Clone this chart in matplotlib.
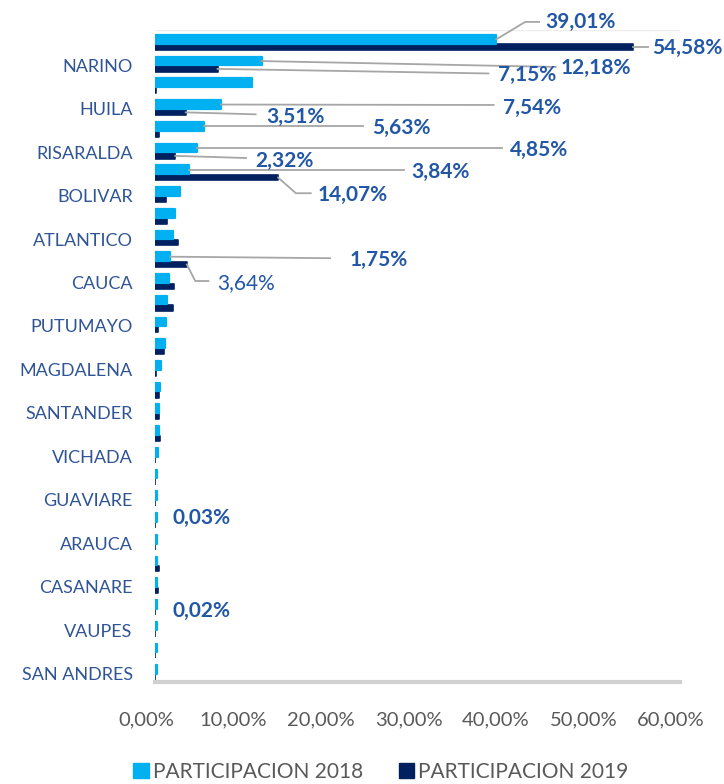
"""
Participacion por departamento 2018 vs 2019, horizontal clustered bars.
"""

import matplotlib.pyplot as plt
import matplotlib.transforms as mtransforms
from matplotlib.patches import Patch

plt.rcParams["font.family"] = ["Lato", "DejaVu Sans"]

# categories top to bottom (only every other one is labelled in the chart)
departments = [
    "ANTIOQUIA", "NARINO", "VALLE DEL CAUCA", "HUILA", "TOLIMA", "RISARALDA",
    "CALDAS", "BOLIVAR", "CORDOBA", "ATLANTICO", "META", "CAUCA",
    "NORTE DE SANTANDER", "PUTUMAYO", "CUNDINAMARCA", "MAGDALENA", "BOYACA",
    "SANTANDER", "SUCRE", "VICHADA", "LA GUAJIRA", "GUAVIARE", "AMAZONAS",
    "ARAUCA", "CESAR", "CASANARE", "GUAINIA", "VAUPES", "QUINDIO", "SAN ANDRES",
]
part_2018 = [
    39.01, 12.18, 11.10, 7.54, 5.63, 4.85, 3.84, 2.90, 2.30, 2.00,
    1.75, 1.60, 1.40, 1.30, 1.10, 0.70, 0.60, 0.50, 0.50, 0.30,
    0.28, 0.28, 0.25, 0.25, 0.28, 0.25, 0.25, 0.25, 0.25, 0.20,
]
part_2019 = [
    54.58, 7.15, 0.10, 3.51, 0.50, 2.32, 14.07, 1.30, 1.40, 2.60,
    3.64, 2.20, 2.00, 0.30, 1.00, 0.10, 0.45, 0.50, 0.55, 0.05,
    0.05, 0.05, 0.03, 0.05, 0.45, 0.30, 0.02, 0.05, 0.05, 0.05,
]
x_ticks = [0, 10, 20, 30, 40, 50, 60]
x_tick_labels = ["0,00%", "10,00%", "20,00%", "30,00%", "40,00%", "50,00%", "60,00%"]

# data labels: (row, series, text position x/y, leader bends, bold)
labels = [
    (0, "2018", 44.6, -0.9, [(42.3, -0.92), (43.9, -0.92)], True),
    (0, "2019", 56.8, 0.26, [(56.3, 0.24)], True),
    (1, "2018", 46.3, 1.2, [(45.8, 1.15)], True),
    (1, "2019", 39.2, 1.52, [(38.1, 1.45)], True),
    (3, "2018", 39.8, 3.02, [(38.7, 2.9)], True),
    (3, "2019", 12.7, 3.45, [(11.5, 3.33)], True),
    (4, "2018", 24.8, 3.96, [(23.8, 3.88)], True),
    (5, "2018", 40.6, 4.97, [(39.7, 4.88)], True),
    (5, "2019", 11.4, 5.48, [(10.4, 5.34)], True),
    (6, "2018", 29.3, 5.99, [(28.5, 5.88)], True),
    (6, "2019", 18.6, 7.04, [(16.1, 6.96), (17.8, 6.96)], True),
    (10, "2018", 22.2, 10.04, [(20.0, 9.95)], True),
    (10, "2019", 7.1, 11.1, [(4.6, 11.0), (6.1, 11.0)], False),
    (22, "2019", 1.95, 21.9, [], True),
    (26, "2019", 1.95, 26.2, [], True),
]

light = "#00B0F0"
dark = "#002060"
label_blue = "#2157A6"
cat_blue = "#2F5597"
gray_text = "#595959"

fig = plt.figure(figsize=(7.24, 7.84), dpi=100)
ax = fig.add_axes([155 / 724, 1 - 682 / 784, 525 / 724, 652 / 784])

rows = list(range(len(departments)))
off_2018, off_2019 = -0.12, 0.24
ax.barh([r + off_2019 for r in rows], part_2019, height=0.25, color=dark,
        edgecolor=dark, linewidth=1.2, joinstyle="round", zorder=2)
ax.barh([r + off_2018 for r in rows], part_2018, height=0.40, color=light,
        edgecolor=light, linewidth=1.6, joinstyle="round", zorder=3)

ax.set_xlim(0, 60)
ax.set_ylim(29.45, -0.55)

# category labels, every other one
ax.set_yticks(rows[1::2])
ax.set_yticklabels(departments[1::2], color=cat_blue, fontsize=13)
ax.tick_params(axis="y", length=0, pad=16)
down = mtransforms.ScaledTranslation(0, -1.5 / 100, fig.dpi_scale_trans)
for lbl in ax.get_yticklabels():
    lbl.set_transform(lbl.get_transform() + down)

ax.set_xticks(x_ticks)
ax.set_xticklabels(x_tick_labels, color=gray_text, fontsize=14.5)
ax.tick_params(axis="x", length=0, pad=21)
shift = mtransforms.ScaledTranslation(-9 / 100, 0, fig.dpi_scale_trans)
for lbl in ax.get_xticklabels():
    lbl.set_transform(lbl.get_transform() + shift)

for side in ["top", "right", "left"]:
    ax.spines[side].set_visible(False)
ax.spines["bottom"].set_color("#D0D0D0")
ax.spines["bottom"].set_linewidth(3)

# faint back-wall edge
ax.axhline(-0.55, color="#EEEEEE", lw=1, zorder=1)

for row, series, tx, ty, bends, bold in labels:
    if series == "2018":
        value, y0 = part_2018[row], row + off_2018
    else:
        value, y0 = part_2019[row], row + off_2019
    if bends:
        xs = [value] + [p[0] for p in bends]
        ys = [y0] + [p[1] for p in bends]
        ax.plot(xs, ys, color="#A6A6A6", lw=1.3, zorder=4, clip_on=False)
    ax.text(
        tx, ty, f"{value:.2f}%".replace(".", ","),
        ha="left", va="center", color=label_blue, fontsize=15,
        fontweight="bold" if bold else "normal", clip_on=False, zorder=5,
    )

handles = [Patch(color=light), Patch(color=dark)]
fig.legend(
    handles, ["PARTICIPACION 2018", "PARTICIPACION 2019"],
    loc="center", bbox_to_anchor=(381 / 724, 1 - 772 / 784), ncol=2,
    frameon=False, handlelength=0.75, handleheight=0.75, handletextpad=0.2,
    columnspacing=1.7, prop={"size": 15}, labelcolor=gray_text,
)

fig.savefig("out.png", dpi=100)
